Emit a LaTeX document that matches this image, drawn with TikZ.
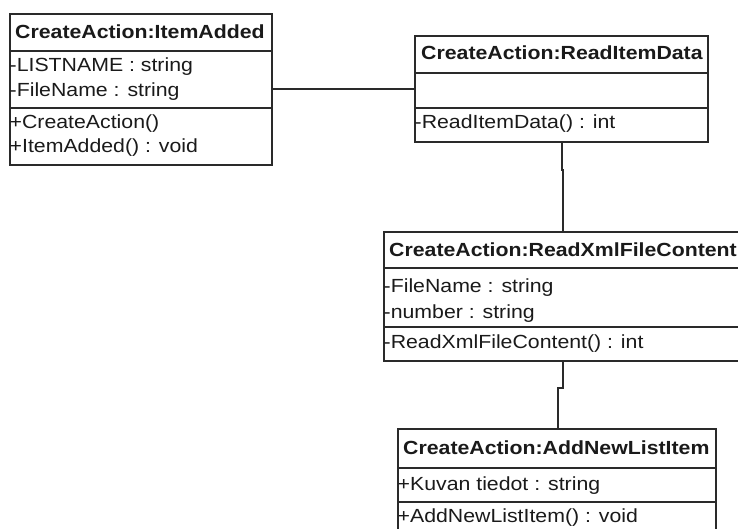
\documentclass[tikz,border=0pt]{standalone}
\usepackage{fontspec}
\setmainfont{Liberation Sans}[FakeStretch=1.12]
\definecolor{linecol}{HTML}{2A2A2A}
\definecolor{txtcol}{HTML}{1A1A1A}
\begin{document}
\begin{tikzpicture}[x=1pt,y=-1pt,
  umlbox/.style={draw=linecol, line width=1.6pt, anchor=north west, inner sep=0pt, fill=white},
  divider/.style={draw=linecol, line width=1.6pt},
  link/.style={draw=linecol, line width=1.6pt},
  title/.style={anchor=base west, inner sep=0pt, text=txtcol, font=\fontsize{19}{23}\selectfont\bfseries},
  member/.style={anchor=base west, inner sep=0pt, text=txtcol, font=\fontsize{19}{23}\selectfont}]
\clip (0,0) rectangle (738,529);
\fill[white] (0,0) rectangle (738,529);

% class boxes
\node[umlbox, minimum width=262pt, minimum height=151pt] (b1) at (9,13) {};
\node[umlbox, minimum width=293pt, minimum height=106pt] (b2) at (414,35) {};
\node[umlbox, minimum width=365pt, minimum height=129pt] (b3) at (383,231) {};
\node[umlbox, minimum width=318pt, minimum height=117pt] (b4) at (397,428) {};

% compartment separators
\coordinate (s1a) at (0,51);  \coordinate (s1b) at (0,108);
\coordinate (s2a) at (0,73);  \coordinate (s2b) at (0,108);
\coordinate (s3a) at (0,268); \coordinate (s3b) at (0,327);
\coordinate (s4a) at (0,468); \coordinate (s4b) at (0,502);
\draw[divider] (b1.west |- s1a) -- (b1.east |- s1a);
\draw[divider] (b1.west |- s1b) -- (b1.east |- s1b);
\draw[divider] (b2.west |- s2a) -- (b2.east |- s2a);
\draw[divider] (b2.west |- s2b) -- (b2.east |- s2b);
\draw[divider] (b3.west |- s3a) -- (b3.east |- s3a);
\draw[divider] (b3.west |- s3b) -- (b3.east |- s3b);
\draw[divider] (b4.west |- s4a) -- (b4.east |- s4a);
\draw[divider] (b4.west |- s4b) -- (b4.east |- s4b);

% CreateAction:ItemAdded
\node[title]  (b1t)  at (15,39)  {CreateAction:ItemAdded};
\node[member] (b1a1) at (9.5,72)  {-LISTNAME : string};
\node[member] (b1a2) at (9.5,97)  {-FileName : string};
\node[member] (b1m1) at (9.5,129) {+CreateAction()};
\node[member] (b1m2) at (9.5,153) {+ItemAdded() : void};

% CreateAction:ReadItemData
\node[title]  (b2t)  at (421,60)  {CreateAction:ReadItemData};
\node[member] (b2m1) at (414.5,129) {-ReadItemData() : int};

% CreateAction:ReadXmlFileContent
\node[title]  (b3t)  at (389,256) {CreateAction:ReadXmlFileContent};
\node[member] (b3a1) at (383.5,292) {-FileName : string};
\node[member] (b3a2) at (383.5,318) {-number : string};
\node[member] (b3m1) at (383.5,348) {-ReadXmlFileContent() : int};

% CreateAction:AddNewListItem
\node[title]  (b4t)  at (403,454) {CreateAction:AddNewListItem};
\node[member] (b4a1) at (397.5,490) {+Kuvan tiedot : string};
\node[member] (b4m1) at (397.5,522) {+AddNewListItem() : void};

% associations
\coordinate (h1) at (0,89);
\draw[link] (b1.east |- h1) -- (b2.west |- h1);

\coordinate (j1) at (562,170);
\coordinate (j2) at (563,170);
\draw[link] (b2.south -| j1) -- (j1) -- (j2) -- (b3.north -| j2);

\coordinate (k1) at (563,388);
\coordinate (k2) at (558,388);
\draw[link] (b3.south -| k1) -- (k1) -- (k2) -- (b4.north -| k2);
\end{tikzpicture}
\end{document}
